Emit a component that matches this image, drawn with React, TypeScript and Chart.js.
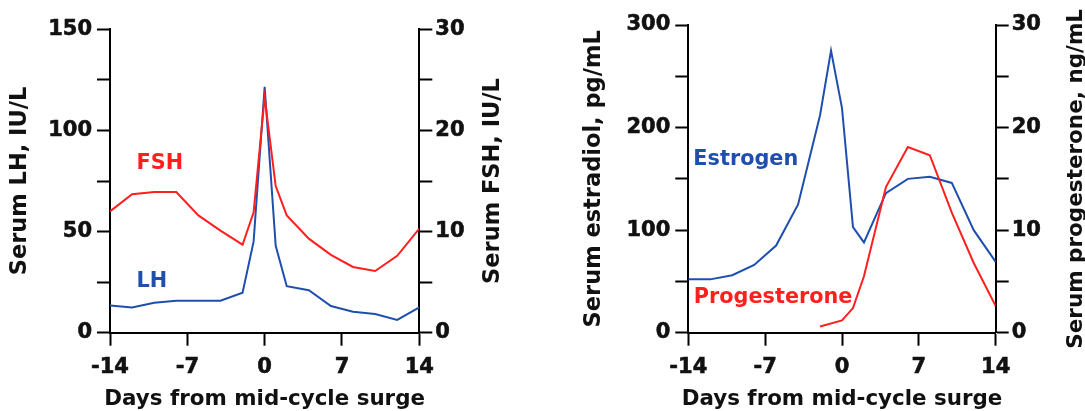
import React, { useEffect, useRef } from 'react';
import { Chart, registerables } from 'chart.js';

Chart.register(...registerables);

// ---------- data ----------
const xTicks = [-14, -7, 0, 7, 14];
const xTitle = 'Days from mid-cycle surge';

const lhDays = [-14, -12, -10, -8, -6, -4, -2, -1, 0, 1, 2, 4, 6, 8, 10, 12, 14];
const lhValues = [13.5, 12.5, 14.8, 15.8, 15.8, 15.8, 19.8, 45, 121.6, 43, 23, 21, 13.2, 10.4, 9.2, 6.3, 12.5];

const fshDays = [-14, -12, -10, -8, -6, -4, -2, -1, 0, 1, 2, 4, 6, 8, 10, 12, 14];
const fshValues = [12.0, 13.7, 13.9, 13.9, 11.6, 10.1, 8.7, 11.9, 23.3, 14.5, 11.6, 9.3, 7.7, 6.5, 6.1, 7.6, 10.3];

const estDays = [-14, -12, -10, -8, -6, -4, -2, -1, 0, 1, 2, 4, 6, 8, 10, 12, 14];
const estValues = [52, 52, 56, 66, 85, 125, 212, 275, 219, 103, 88, 136, 150, 152, 146, 100, 69];

const progDays = [-2, 0, 1, 2, 4, 6, 8, 10, 12, 14];
const progValues = [0.6, 1.2, 2.4, 5.5, 14.2, 18.1, 17.3, 11.7, 6.8, 2.6];

// ---------- styles ----------
const FONT = 'DejaVu Sans';
const TEXT = '#111111';
const RED = '#ff1f1f';
const BLUE = '#1f4fae';
const TICK_SIZE = 21;
const TITLE_SIZE = 22.5;
const X_TITLE_SIZE = 21.4;
const X_TITLE_BASELINE = 404.5;
const LABEL_SIZE = 20.8;

type Label = { text: string; day: number; value: number; color: string };

type Spec = {
  canvasLeft: number;
  canvasWidth: number;
  leftWidth: number;
  rightWidth: number;
  topPad: number;
  xHeight: number;
  yMax: number;
  yStep: number;
  yLabelStep: number;
  y2Max: number;
  y2Step: number;
  y2LabelStep: number;
  leftTitle: string;
  leftTitlePad: number;
  rightTitle: string;
  rightTitleX: number;
  rightTitleSize: number;
  series: { days: number[]; values: number[]; color: string; axis: string }[];
  labels: Label[];
};

const leftSpec: Spec = {
  canvasLeft: 0,
  canvasWidth: 540,
  leftWidth: 110,
  rightWidth: 540 - 419.3,
  topPad: 29.3,
  xHeight: 411 - 332.7,
  yMax: 150,
  yStep: 25,
  yLabelStep: 50,
  y2Max: 30,
  y2Step: 5,
  y2LabelStep: 10,
  leftTitle: 'Serum LH, IU/L',
  leftTitlePad: 7,
  rightTitle: 'Serum FSH, IU/L',
  rightTitleX: 493,
  rightTitleSize: 22.5,
  series: [
    { days: fshDays, values: fshValues, color: RED, axis: 'y2' },
    { days: lhDays, values: lhValues, color: BLUE, axis: 'y' },
  ],
  labels: [
    { text: 'FSH', day: -11.6, value: 80.8, color: RED },
    { text: 'LH', day: -11.6, value: 22.4, color: BLUE },
  ],
};

const rightSpec: Spec = {
  canvasLeft: 540,
  canvasWidth: 545,
  leftWidth: 148.3,
  rightWidth: 545 - 455.7,
  topPad: 25,
  xHeight: 411 - 332.7,
  yMax: 300,
  yStep: 50,
  yLabelStep: 100,
  y2Max: 30,
  y2Step: 5,
  y2LabelStep: 10,
  leftTitle: 'Serum estradiol, pg/mL',
  leftTitlePad: 41,
  rightTitle: 'Serum progesterone, ng/mL',
  rightTitleX: 536,
  rightTitleSize: 21.5,
  series: [
    { days: progDays, values: progValues, color: RED, axis: 'y2' },
    { days: estDays, values: estValues, color: BLUE, axis: 'y' },
  ],
  labels: [
    { text: 'Estrogen', day: -13.54, value: 163.5, color: BLUE },
    { text: 'Progesterone', day: -13.5, value: 28.5, color: RED },
  ],
};

function makePlugin(spec: Spec) {
  return {
    id: 'extraText',
    afterDraw(chart: any) {
      const ctx = chart.ctx;
      const xs = chart.scales.x;
      const ys = chart.scales.y;
      const { top, bottom, left, right } = chart.chartArea;
      ctx.save();
      // series labels
      ctx.font = `bold ${LABEL_SIZE}px "${FONT}"`;
      ctx.textAlign = 'left';
      ctx.textBaseline = 'alphabetic';
      for (const l of spec.labels) {
        ctx.fillStyle = l.color;
        ctx.fillText(l.text, xs.getPixelForValue(l.day), ys.getPixelForValue(l.value));
      }
      // x-axis title
      ctx.fillStyle = TEXT;
      ctx.font = `bold ${X_TITLE_SIZE}px "${FONT}"`;
      ctx.textAlign = 'center';
      ctx.fillText(xTitle, (left + right) / 2, X_TITLE_BASELINE);
      // right-axis title (reads bottom to top)
      ctx.translate(spec.rightTitleX, (top + bottom) / 2);
      ctx.rotate(-Math.PI / 2);
      ctx.font = `bold ${spec.rightTitleSize}px "${FONT}"`;
      ctx.textAlign = 'center';
      ctx.textBaseline = 'middle';
      ctx.fillText(spec.rightTitle, 0, 0);
      ctx.restore();
    },
  };
}

function axisCommon() {
  return {
    grid: {
      drawOnChartArea: false,
      drawTicks: true,
      tickLength: 13,
      tickWidth: 2,
      color: '#000',
    },
    border: { display: true, color: '#000', width: 2 },
  };
}

function tickFont() {
  return { family: FONT, weight: 'bold', size: TICK_SIZE };
}

function buildConfig(spec: Spec): any {
  return {
    type: 'line',
    data: {
      datasets: spec.series.map((s) => ({
        data: s.days.map((d, i) => ({ x: d, y: s.values[i] })),
        borderColor: s.color,
        borderWidth: 2,
        pointRadius: 0,
        tension: 0,
        fill: false,
        yAxisID: s.axis,
      })),
    },
    options: {
      animation: false,
      responsive: false,
      events: [],
      layout: { padding: { top: spec.topPad, left: 0, right: 0, bottom: 0 } },
      plugins: { legend: { display: false }, tooltip: { enabled: false } },
      scales: {
        x: {
          type: 'linear',
          min: -14,
          max: 14,
          afterBuildTicks: (s: any) => {
            s.ticks = xTicks.map((v) => ({ value: v }));
          },
          ticks: {
            font: tickFont(),
            color: TEXT,
            padding: 9,
            maxRotation: 0,
            autoSkip: false,
            textStrokeColor: TEXT,
            textStrokeWidth: 0.6,
            callback: (v: any) => String(v),
          },
          title: { display: false },
          afterFit: (s: any) => {
            s.height = spec.xHeight;
          },
          ...axisCommon(),
        },
        y: {
          type: 'linear',
          position: 'left',
          min: 0,
          max: spec.yMax,
          ticks: {
            stepSize: spec.yStep,
            autoSkip: false,
            font: tickFont(),
            color: TEXT,
            padding: 5,
            textStrokeColor: TEXT,
            textStrokeWidth: 0.6,
            callback: (v: any) => (v % spec.yLabelStep === 0 ? String(v) : ''),
          },
          title: {
            display: true,
            text: spec.leftTitle,
            font: { family: FONT, weight: 'bold', size: TITLE_SIZE },
            color: TEXT,
            padding: { top: spec.leftTitlePad, bottom: 0 },
          },
          afterFit: (s: any) => {
            s.width = spec.leftWidth;
          },
          ...axisCommon(),
        },
        y2: {
          type: 'linear',
          position: 'right',
          min: 0,
          max: spec.y2Max,
          ticks: {
            stepSize: spec.y2Step,
            autoSkip: false,
            font: tickFont(),
            color: TEXT,
            padding: 3,
            textStrokeColor: TEXT,
            textStrokeWidth: 0.6,
            callback: (v: any) => (v % spec.y2LabelStep === 0 ? String(v) : ''),
          },
          afterFit: (s: any) => {
            s.width = spec.rightWidth;
          },
          ...axisCommon(),
        },
      },
    },
    plugins: [makePlugin(spec)],
  };
}

function HormoneChart({ spec }: { spec: Spec }) {
  const ref = useRef<HTMLCanvasElement | null>(null);
  useEffect(() => {
    if (!ref.current) return;
    const chart = new Chart(ref.current, buildConfig(spec));
    return () => chart.destroy();
  }, [spec]);
  return (
    <canvas
      ref={ref}
      width={spec.canvasWidth}
      height={411}
      style={{
        position: 'absolute',
        left: spec.canvasLeft,
        top: 0,
        width: spec.canvasWidth,
        height: 411,
        display: 'block',
      }}
    />
  );
}

export default function App() {
  return (
    <div
      style={{
        position: 'fixed',
        left: 0,
        top: 0,
        width: 1085,
        height: 411,
        background: '#ffffff',
        overflow: 'hidden',
      }}
    >
      <HormoneChart spec={leftSpec} />
      <HormoneChart spec={rightSpec} />
    </div>
  );
}
